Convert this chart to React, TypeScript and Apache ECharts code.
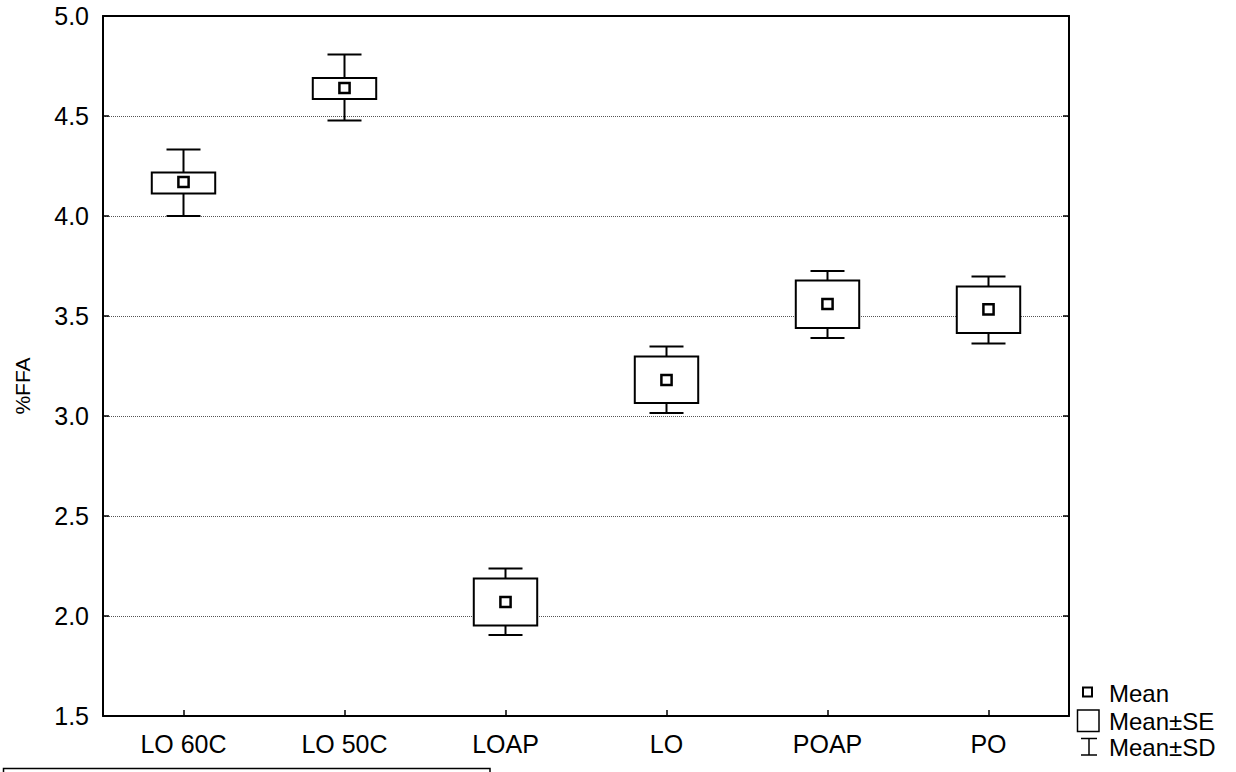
import React, { useEffect, useRef } from "react";
import * as echarts from "echarts";

const categories = ["LO 60C", "LO 50C", "LOAP", "LO", "POAP", "PO"];
const means = [4.17, 4.64, 2.07, 3.18, 3.56, 3.533];
const seLow = [4.113, 4.585, 1.953, 3.065, 3.44, 3.415];
const seHigh = [4.218, 4.69, 2.188, 3.298, 3.677, 3.648];
const sdLow = [4.0, 4.477, 1.905, 3.015, 3.39, 3.363];
const sdHigh = [4.333, 4.807, 2.237, 3.347, 3.725, 3.698];
const yTicks = { min: 1.5, max: 5.0, interval: 0.5 };
const yTitle = "%FFA";
const legendLabels = ["Mean", "Mean±SE", "Mean±SD"];

const FONT = "'Liberation Sans', Arial, sans-serif";

export default function App() {
  const ref = useRef<HTMLDivElement>(null);
  useEffect(() => {
    document.body.style.margin = "0";
    if (!ref.current) return;
    const chart = echarts.init(ref.current, undefined, { renderer: "svg" });
    const data = categories.map((c, i) => [i, means[i], seLow[i], seHigh[i], sdLow[i], sdHigh[i]]);
    const stroke = "#000";
    const option: any = {
      animation: false,
      backgroundColor: "#fff",
      grid: { left: 103, right: 167, top: 16, bottom: 56, containLabel: false },
      xAxis: [
        {
          type: "category",
          data: categories,
          boundaryGap: true,
          position: "bottom",
          axisLine: { show: true, lineStyle: { color: stroke, width: 2 } },
          axisTick: { show: true, inside: true, length: 6, alignWithLabel: true, lineStyle: { color: stroke, width: 1.5 } },
          axisLabel: { color: "#000", fontSize: 25, fontFamily: FONT, margin: 15 },
          splitLine: { show: false },
        },
        {
          type: "category",
          data: categories,
          position: "top",
          axisLine: { show: true, lineStyle: { color: stroke, width: 2 } },
          axisTick: { show: false },
          axisLabel: { show: false },
          splitLine: { show: false },
        },
      ],
      yAxis: [
        {
          type: "value",
          min: yTicks.min,
          max: yTicks.max,
          interval: yTicks.interval,
          position: "left",
          axisLine: { show: true, lineStyle: { color: stroke, width: 2 } },
          axisTick: { show: true, inside: true, length: 6, lineStyle: { color: stroke, width: 1.5 } },
          axisLabel: { color: "#000", fontSize: 25, fontFamily: FONT, margin: 14, formatter: (v: number) => v.toFixed(1) },
          splitLine: { show: true, lineStyle: { color: "#555", width: 1, type: [1, 1] } },
        },
        {
          type: "value",
          min: yTicks.min,
          max: yTicks.max,
          interval: yTicks.interval,
          position: "right",
          axisLine: { show: true, lineStyle: { color: stroke, width: 2 } },
          axisTick: { show: true, inside: true, length: 6, lineStyle: { color: stroke, width: 1.5 } },
          axisLabel: { show: false },
          splitLine: { show: false },
        },
      ],
      series: [
        {
          type: "custom",
          xAxisIndex: 0,
          yAxisIndex: 0,
          data,
          encode: { x: 0, y: [1, 2, 3, 4, 5] },
          renderItem: (params: any, api: any) => {
            const idx = api.value(0);
            const m = api.coord([idx, api.value(1)]);
            const seL = api.coord([idx, api.value(2)]);
            const seH = api.coord([idx, api.value(3)]);
            const sdL = api.coord([idx, api.value(4)]);
            const sdH = api.coord([idx, api.value(5)]);
            const band = api.size([1, 0])[0];
            const x = m[0];
            const bw = band * 0.197;
            const cw = band * 0.1056;
            const ms = 5.1;
            const ls = { stroke, lineWidth: 2, fill: "none" };
            return {
              type: "group",
              children: [
                { type: "line", shape: { x1: x, y1: sdH[1], x2: x, y2: seH[1] }, style: ls },
                { type: "line", shape: { x1: x - cw, y1: sdH[1], x2: x + cw, y2: sdH[1] }, style: ls },
                { type: "line", shape: { x1: x, y1: seL[1], x2: x, y2: sdL[1] }, style: ls },
                { type: "line", shape: { x1: x - cw, y1: sdL[1], x2: x + cw, y2: sdL[1] }, style: ls },
                {
                  type: "rect",
                  shape: { x: x - bw, y: seH[1], width: 2 * bw, height: seL[1] - seH[1] },
                  style: { stroke, lineWidth: 2, fill: "#fff" },
                },
                {
                  type: "rect",
                  shape: { x: x - ms, y: m[1] - ms, width: 2 * ms, height: 2 * ms },
                  style: { stroke, lineWidth: 2.5, fill: "#fff" },
                },
              ],
            };
          },
        },
      ],
      graphic: [
        {
          type: "text",
          x: 22,
          y: 386,
          rotation: Math.PI / 2,
          style: { text: yTitle, fill: "#000", fontSize: 21, fontFamily: FONT, align: "center", verticalAlign: "middle" },
        },
        { type: "rect", shape: { x: 3.5, y: 768.5, width: 486.5, height: 30 }, style: { stroke, lineWidth: 1.5, fill: "none" } },
        { type: "rect", shape: { x: 1083, y: 687.5, width: 9, height: 9 }, style: { stroke, lineWidth: 2, fill: "#fff" } },
        { type: "rect", shape: { x: 1077.5, y: 710, width: 21.5, height: 21.5 }, style: { stroke, lineWidth: 1.5, fill: "#fff" } },
        { type: "line", shape: { x1: 1089, y1: 738.5, x2: 1089, y2: 755 }, style: { stroke, lineWidth: 1.5 } },
        { type: "line", shape: { x1: 1081, y1: 738.5, x2: 1097, y2: 738.5 }, style: { stroke, lineWidth: 1.5 } },
        { type: "line", shape: { x1: 1081, y1: 755, x2: 1097, y2: 755 }, style: { stroke, lineWidth: 1.5 } },
        ...legendLabels.map((t, i) => ({
          type: "text",
          x: 1109,
          y: [693.5, 721.5, 747][i],
          style: {
            text: t,
            fill: "#000",
            fontSize: 24,
            lineHeight: 22,
            fontFamily: FONT,
            verticalAlign: "middle",
            align: "left",
          },
        })),
      ],
    };
    chart.setOption(option);
    return () => chart.dispose();
  }, []);
  return <div ref={ref} style={{ width: 1236, height: 772 }} />;
}
